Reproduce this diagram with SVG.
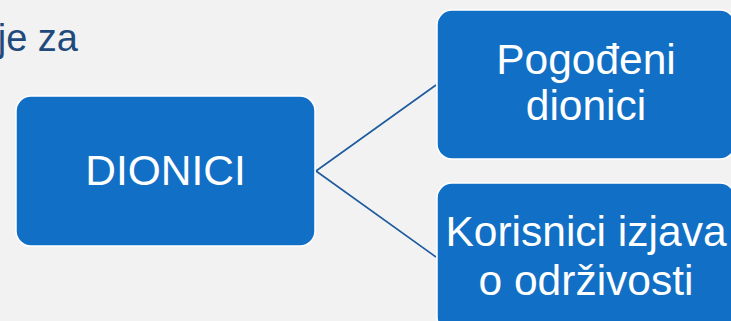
<svg xmlns="http://www.w3.org/2000/svg" width="731" height="321" viewBox="0 0 731 321">
  <style>
    .box { fill: #116FC5; stroke: #FFFFFF; stroke-width: 1.5; }
    .lbl { font-family: "Liberation Sans", Arial, sans-serif; font-size: 42.5px; fill: #FFFFFF; text-anchor: middle; }
    .conn { stroke: #1D5A9E; stroke-width: 1.6; fill: none; }
    .title { font-family: "Liberation Sans", Arial, sans-serif; font-size: 38px; fill: #1E4A7C; text-anchor: end; }
  </style>
  <rect x="0" y="0" width="731" height="321" fill="#F2F2F2"/>
  <text class="title" x="78" y="51">je za</text>
  <g id="connectors">
    <path class="conn" d="M316,171 L436,85"/>
    <path class="conn" d="M316,171 L436,257"/>
  </g>
  <g id="dionici">
    <rect class="box" x="16" y="96" width="299" height="150" rx="15" ry="15"/>
    <text class="lbl" x="165.5" y="185">DIONICI</text>
  </g>
  <g id="pogodeni">
    <rect class="box" x="437" y="10" width="298" height="149" rx="15" ry="15"/>
    <text class="lbl" x="586" y="74">Pogođeni</text>
    <text class="lbl" x="586" y="120">dionici</text>
  </g>
  <g id="korisnici">
    <rect class="box" x="437" y="183" width="298" height="149" rx="15" ry="15"/>
    <text class="lbl" x="586" y="246">Korisnici izjava</text>
    <text class="lbl" x="586" y="295">o održivosti</text>
  </g>
</svg>
